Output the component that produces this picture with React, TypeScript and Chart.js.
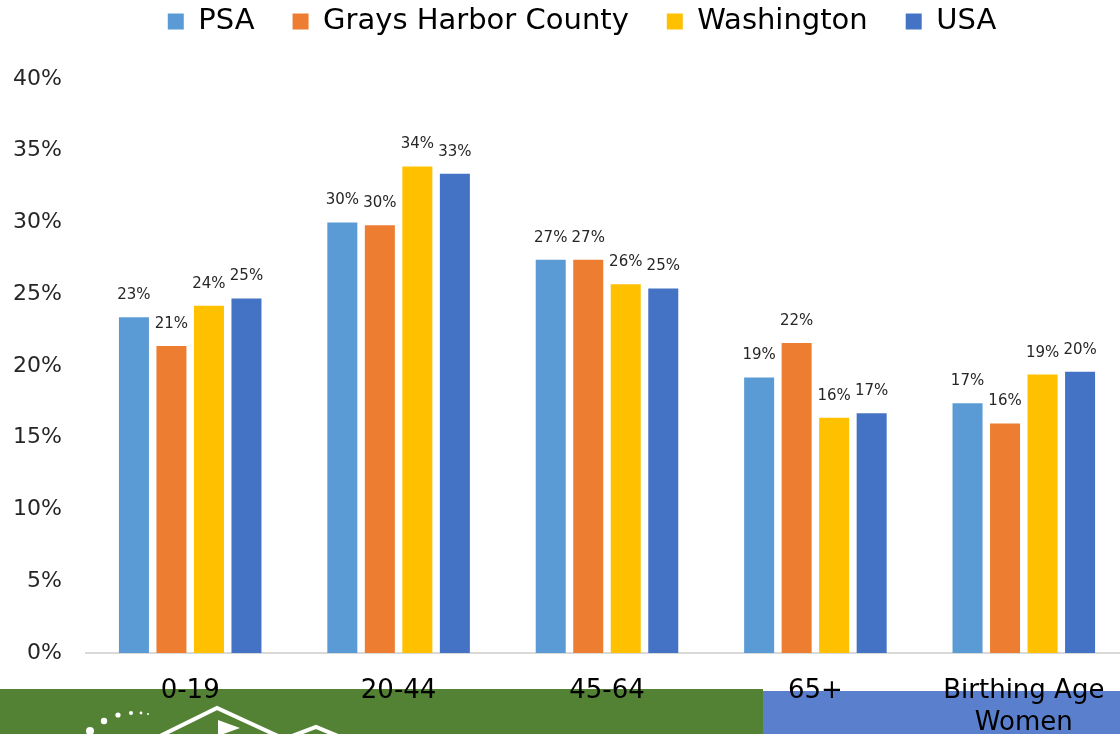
import React, { useEffect, useRef } from 'react';
import { Chart, registerables } from 'chart.js';

Chart.register(...registerables);

const categories: (string | string[])[] = ['0-19', '20-44', '45-64', '65+', ['Birthing Age', 'Women']];
const seriesNames = ['PSA', 'Grays Harbor County', 'Washington', 'USA'];
const psaValues = [23.4, 30.0, 27.4, 19.2, 17.4];
const graysHarborValues = [21.4, 29.8, 27.4, 21.6, 16.0];
const washingtonValues = [24.2, 33.9, 25.7, 16.4, 19.4];
const usaValues = [24.7, 33.4, 25.4, 16.7, 19.6];
const seriesColors = ['#5B9BD5', '#ED7D31', '#FFC000', '#4472C4'];
const yTicks = [0, 5, 10, 15, 20, 25, 30, 35, 40];

const FONT = "'DejaVu Sans', sans-serif";
const LEGEND_PAD = 38;
const TOP_PAD = -31;
const CHART_TOP = 79;
const LEGEND_SHIFT = 18;

const bandPlugin = {
  id: 'bands',
  beforeDraw(chart: any) {
    const ctx = chart.ctx;
    ctx.save();
    ctx.fillStyle = '#548235';
    ctx.fillRect(0, 689, 763, 50);
    ctx.fillStyle = '#5A7FCD';
    ctx.fillRect(763, 691, 400, 50);
    ctx.fillStyle = '#ffffff';
    const dots = [[90, 731, 4], [104, 721, 3.2], [118, 715, 2.6], [131, 713, 2], [141, 713, 1.4], [148, 714, 1]];
    dots.forEach(([x, y, r]) => { ctx.beginPath(); ctx.arc(x, y, r, 0, Math.PI * 2); ctx.fill(); });
    ctx.strokeStyle = '#ffffff';
    ctx.lineWidth = 4;
    ctx.beginPath();
    ctx.moveTo(160, 736);
    ctx.lineTo(217, 708);
    ctx.lineTo(278, 736);
    ctx.stroke();
    ctx.beginPath();
    ctx.moveTo(292, 736);
    ctx.lineTo(316, 727);
    ctx.lineTo(338, 736);
    ctx.stroke();
    ctx.beginPath();
    ctx.moveTo(218, 720);
    ctx.lineTo(240, 728);
    ctx.lineTo(218, 736);
    ctx.closePath();
    ctx.fill();
    ctx.restore();
  },
};

const legendPatchPlugin = {
  id: 'legendPatch',
  beforeLayout(chart: any) {
    const lg = chart.legend;
    if (lg && !lg.__patched) {
      const origFit = lg.fit.bind(lg);
      lg.fit = function () {
        origFit();
        this.height = CHART_TOP - TOP_PAD;
      };
      const origDraw = lg.draw.bind(lg);
      lg.draw = function () {
        const ctx = chart.ctx;
        ctx.save();
        ctx.translate(LEGEND_SHIFT, 0);
        origDraw();
        ctx.restore();
      };
      lg.__patched = true;
    }
  },
};

const labelPlugin = {
  id: 'valueLabels',
  afterDatasetsDraw(chart: any) {
    const ctx = chart.ctx;
    ctx.save();
    ctx.font = `15px ${FONT}`;
    ctx.fillStyle = '#262626';
    ctx.textAlign = 'center';
    ctx.textBaseline = 'middle';
    chart.data.datasets.forEach((ds: any, i: number) => {
      const meta = chart.getDatasetMeta(i);
      meta.data.forEach((bar: any, j: number) => {
        ctx.fillText(`${Math.round(ds.data[j])}%`, bar.x, bar.y - 22);
      });
    });
    ctx.restore();
  },
};

export default function App() {
  const ref = useRef<HTMLCanvasElement>(null);
  useEffect(() => {
    if (!ref.current) return;
    const allSeries = [psaValues, graysHarborValues, washingtonValues, usaValues];
    const chart = new Chart(ref.current, {
      type: 'bar',
      data: {
        labels: categories as any,
        datasets: allSeries.map((vals, i) => ({
          label: seriesNames[i],
          data: vals,
          backgroundColor: seriesColors[i],
          borderWidth: 0,
          barPercentage: 0.8,
          categoryPercentage: 0.72,
        })),
      },
      options: {
        responsive: false,
        animation: false,
        devicePixelRatio: 1,
        layout: { padding: { left: 0, right: 12, top: TOP_PAD, bottom: 0 } },
        plugins: {
          tooltip: { enabled: false },
          legend: {
            position: 'top',
            labels: {
              boxWidth: 16,
              boxHeight: 16,
              padding: LEGEND_PAD,
              color: '#000',
              font: { family: FONT, size: 29 },
            },
          },
        },
        scales: {
          x: {
            grid: { display: false },
            border: { display: true, color: '#D9D9D9', width: 2 },
            ticks: { color: '#000', font: { family: FONT, size: 26 }, padding: 15, maxRotation: 0, autoSkip: false },
            afterFit(scale: any) { scale.height = 81; },
          },
          y: {
            min: 0,
            max: 40,
            afterBuildTicks(scale: any) { scale.ticks = yTicks.map((v) => ({ value: v })); },
            grid: { display: false, drawTicks: false },
            border: { display: false },
            ticks: { color: '#262626', font: { family: FONT, size: 22 }, padding: 24, callback: (v: any) => `${v}%` },
            afterFit(scale: any) { scale.width = 86; },
          },
        },
      },
      plugins: [legendPatchPlugin, bandPlugin, labelPlugin],
    } as any);
    return () => chart.destroy();
  }, []);
  return (
    <div style={{ position: 'absolute', left: 0, top: 0, width: 1120, height: 734, overflow: 'hidden', background: '#fff' }}>
      <canvas ref={ref} width={1140} height={734} style={{ display: 'block' }} />
    </div>
  );
}
